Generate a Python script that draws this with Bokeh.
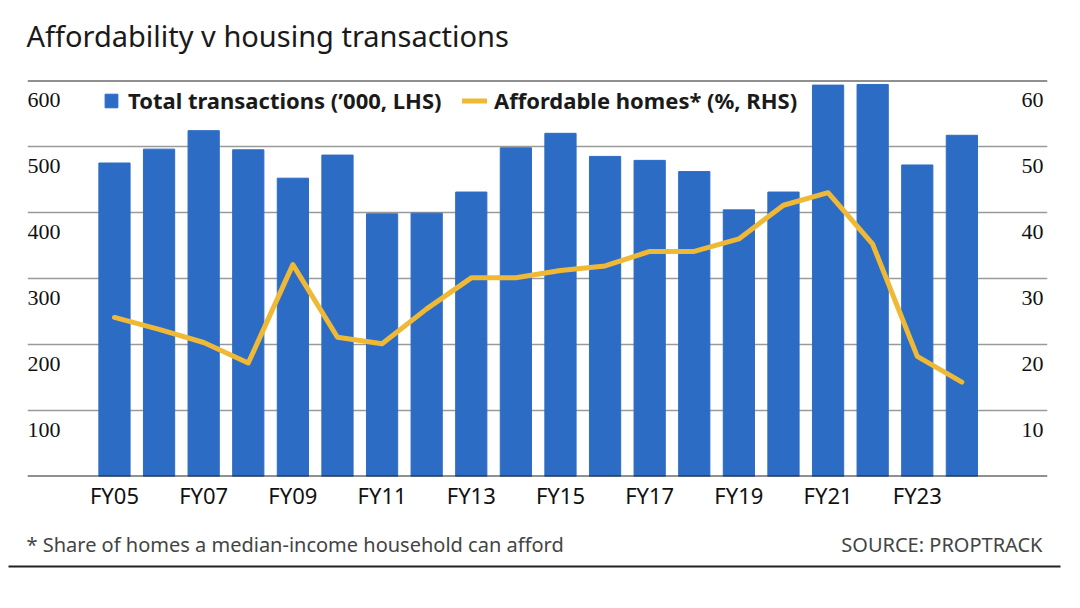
from bokeh.plotting import figure
from bokeh.layouts import column
from bokeh.models import (Range1d, FixedTicker, Span, Label, LabelSet, Grid,
                          ColumnDataSource, Legend, LegendItem, BoxAnnotation)
from bokeh.embed import file_html
from bokeh.resources import INLINE

# ---------------- data ----------------
years = ["FY05", "FY06", "FY07", "FY08", "FY09", "FY10", "FY11", "FY12", "FY13", "FY14",
         "FY15", "FY16", "FY17", "FY18", "FY19", "FY20", "FY21", "FY22", "FY23", "FY24"]
transactions = [475, 496, 524, 495, 452, 487, 398, 399, 431, 498,
                520, 485, 479, 462, 404, 431, 593, 594, 472, 517]
affordable = [24.1, 22.3, 20.3, 17.2, 32.1, 21.1, 20.1, 25.4, 30.1, 30.1,
              31.2, 31.9, 34.1, 34.1, 36.0, 41.1, 43.0, 35.2, 18.2, 14.3]
left_ticks = [100, 200, 300, 400, 500, 600]
left_labels = ["100", "200", "300", "400", "500", "600"]
right_ticks = [10, 20, 30, 40, 50, 60]
right_labels = ["10", "20", "30", "40", "50", "60"]

title_text = "Affordability v housing transactions"
bar_name = "Total transactions (\u2019000, LHS)"
line_name = "Affordable homes* (%, RHS)"
note_text = "* Share of homes a median-income household can afford"
source_text = "SOURCE: PROPTRACK"

FONT = "Noto Sans"
BLUE = "#2D6CC5"
GOLD = "#F0B935"
DARK = "#1a1a1a"
W = 1080


def hide_grids(f):
    for r in list(f.center):
        if isinstance(r, Grid):
            r.visible = False


def blank(height):
    f = figure(width=W, height=height, output_backend="svg", toolbar_location=None,
               x_range=Range1d(0, 1), y_range=Range1d(0, 1),
               x_axis_location=None, y_axis_location=None, min_border=0,
               outline_line_color=None, background_fill_color="white",
               border_fill_color="white", frame_align=False)
    hide_grids(f)
    return f


# ---------------- title ----------------
top = blank(60)
top.add_layout(Label(x=26, y=25, x_units="screen", y_units="screen", text=title_text,
                     text_font=FONT, text_font_size="29px", text_color=DARK,
                     text_baseline="alphabetic", text_align="left"))

# ---------------- main chart ----------------
xs = list(range(len(years)))
src = ColumnDataSource(dict(x=xs, year=years, trans=transactions, aff=affordable))

p = figure(width=W, height=460, output_backend="svg", toolbar_location=None,
           x_range=Range1d(-1.95, 20.92), y_range=Range1d(0, 600),
           y_axis_location=None, frame_align=False,
           min_border_left=27, min_border_right=33, min_border_top=20, min_border_bottom=44,
           outline_line_color=None, background_fill_color="white", border_fill_color="white")
p.extra_y_ranges = {"right": Range1d(0, 60)}
hide_grids(p)

grid = Grid(dimension=1, ticker=FixedTicker(ticks=left_ticks[:-1]),
            grid_line_color="#9a9a9a", grid_line_width=1.5)
p.add_layout(grid)

ax = p.xaxis[0]
ax.ticker = FixedTicker(ticks=xs[::2])
ax.major_label_overrides = {i: years[i] for i in xs[::2]}
ax.axis_line_color = None
ax.major_tick_line_color = None
ax.minor_tick_line_color = None
ax.major_tick_out = 0
ax.major_tick_in = 0
ax.major_label_standoff = 3
ax.major_label_text_font = FONT
ax.major_label_text_font_size = "22px"
ax.major_label_text_color = "#111111"

bars = p.vbar(x="x", top="trans", width=0.7, source=src, fill_color=BLUE, line_color=BLUE)
line = p.line(x="x", y="aff", source=src, y_range_name="right", line_color=GOLD,
              line_width=5, line_join="round", line_cap="round")

p.add_layout(Span(location=600, dimension="width", line_color="#222222", line_width=2))
p.add_layout(Span(location=0, dimension="width", line_color="#222222", line_width=2))

lsrc = ColumnDataSource(dict(y=left_ticks, text=left_labels))
rsrc = ColumnDataSource(dict(y=right_ticks, text=right_labels))
p.add_layout(LabelSet(x=0, y="y", x_units="screen", text="text", source=lsrc,
                      y_offset=-26.7, text_align="left", text_baseline="alphabetic",
                      text_font=FONT, text_font_size="22px", text_color="#111111"))
p.add_layout(LabelSet(x=1016, y="y", x_units="screen", text="text", source=rsrc,
                      y_range_name="right",
                      y_offset=-26.7, text_align="right", text_baseline="alphabetic",
                      text_font=FONT, text_font_size="22px", text_color="#111111"))

common = dict(orientation="horizontal", padding=0, margin=0, spacing=0,
              border_line_alpha=0, background_fill_alpha=0,
              label_text_font=FONT, label_text_font_style="bold",
              label_text_font_size="22px", label_text_color=DARK, glyph_height=17)
leg1 = Legend(items=[LegendItem(label=bar_name, renderers=[bars])],
              location=(76, 361), glyph_width=16, label_standoff=9, **common)
leg2 = Legend(items=[LegendItem(label=line_name, renderers=[line])],
              location=(435, 361), glyph_width=25, label_standoff=7, **common)
p.add_layout(leg1)
p.add_layout(leg2)

# ---------------- footer ----------------
foot = blank(80)
foot.add_layout(Label(x=26, y=56.5, x_units="screen", y_units="screen", text=note_text,
                      text_font=FONT, text_font_size="20px", text_color="#444444",
                      text_baseline="alphabetic", text_align="left"))
foot.add_layout(Label(x=1042, y=56.5, x_units="screen", y_units="screen", text=source_text,
                      text_font=FONT, text_font_size="20px", text_color="#444444",
                      text_baseline="alphabetic", text_align="right"))
foot.add_layout(BoxAnnotation(left=8, right=1060, bottom=33, top=35,
                              left_units="screen", right_units="screen",
                              top_units="screen", bottom_units="screen",
                              fill_color="#222222", fill_alpha=1, line_color=None))

layout = column(top, p, foot, spacing=0)
open("out.html", "w").write(file_html(layout, INLINE))
